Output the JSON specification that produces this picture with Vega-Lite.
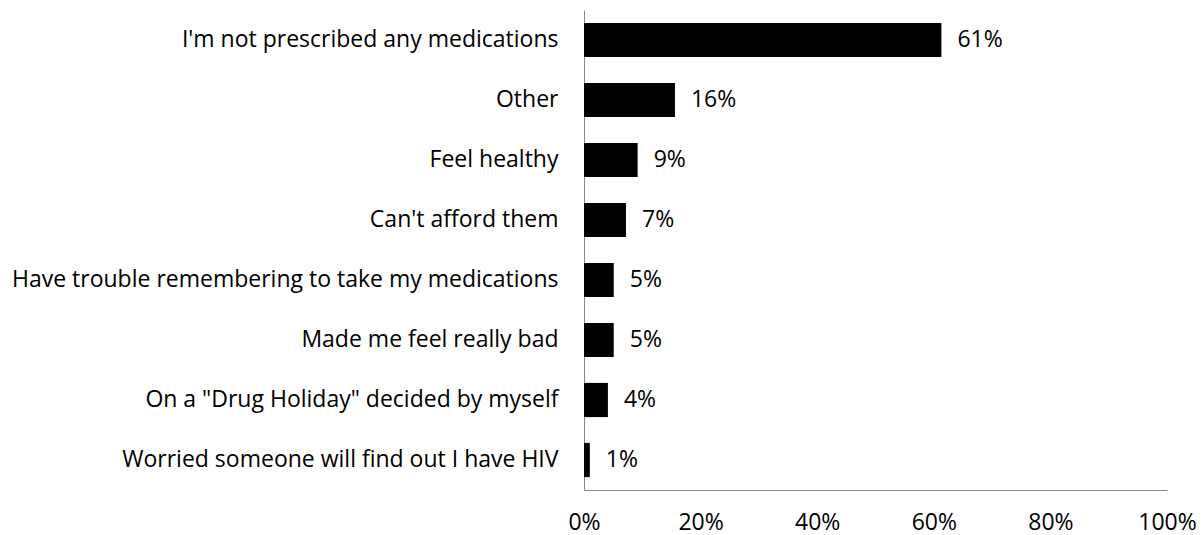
{
  "$schema": "https://vega.github.io/schema/vega-lite/v6.json",
  "autosize": "none",
  "width": 583,
  "height": 480,
  "padding": {"left": 584, "top": 10, "right": 37, "bottom": 45},
  "background": "white",
  "config": {"view": {"stroke": null}, "font": "Open Sans"},
  "data": {"values": [
    {"reason": "I'm not prescribed any medications", "pct": 0.613, "label": "61%"},
    {"reason": "Other", "pct": 0.156, "label": "16%"},
    {"reason": "Feel healthy", "pct": 0.092, "label": "9%"},
    {"reason": "Can't afford them", "pct": 0.072, "label": "7%"},
    {"reason": "Have trouble remembering to take my medications", "pct": 0.051, "label": "5%"},
    {"reason": "Made me feel really bad", "pct": 0.051, "label": "5%"},
    {"reason": "On a \"Drug Holiday\" decided by myself", "pct": 0.041, "label": "4%"},
    {"reason": "Worried someone will find out I have HIV", "pct": 0.01, "label": "1%"}
  ]},
  "encoding": {
    "y": {"field": "reason", "type": "nominal", "sort": null,
      "scale": {"paddingInner": 0.43, "paddingOuter": 0.215},
      "axis": {"title": null, "ticks": false, "domainColor": "#868686", "labelFontSize": 23, "labelColor": "#000000", "labelPadding": 26, "labelLimit": 700, "labelFont": "Open Sans"}},
    "x": {"field": "pct", "type": "quantitative",
      "scale": {"domain": [0, 1], "nice": false},
      "axis": {"title": null, "format": ".0%", "values": [0, 0.2, 0.4, 0.6, 0.8, 1], "ticks": false, "grid": false, "domainColor": "#868686", "labelFontSize": 23, "labelColor": "#000000", "labelPadding": 21, "labelFont": "Open Sans", "labelFlush": false}}
  },
  "layer": [
    {"mark": {"type": "bar", "color": "#000000"}},
    {"mark": {"type": "text", "align": "left", "dx": 16, "fontSize": 23, "color": "#000000", "font": "Open Sans"},
     "encoding": {"text": {"field": "label"}}}
  ]
}
